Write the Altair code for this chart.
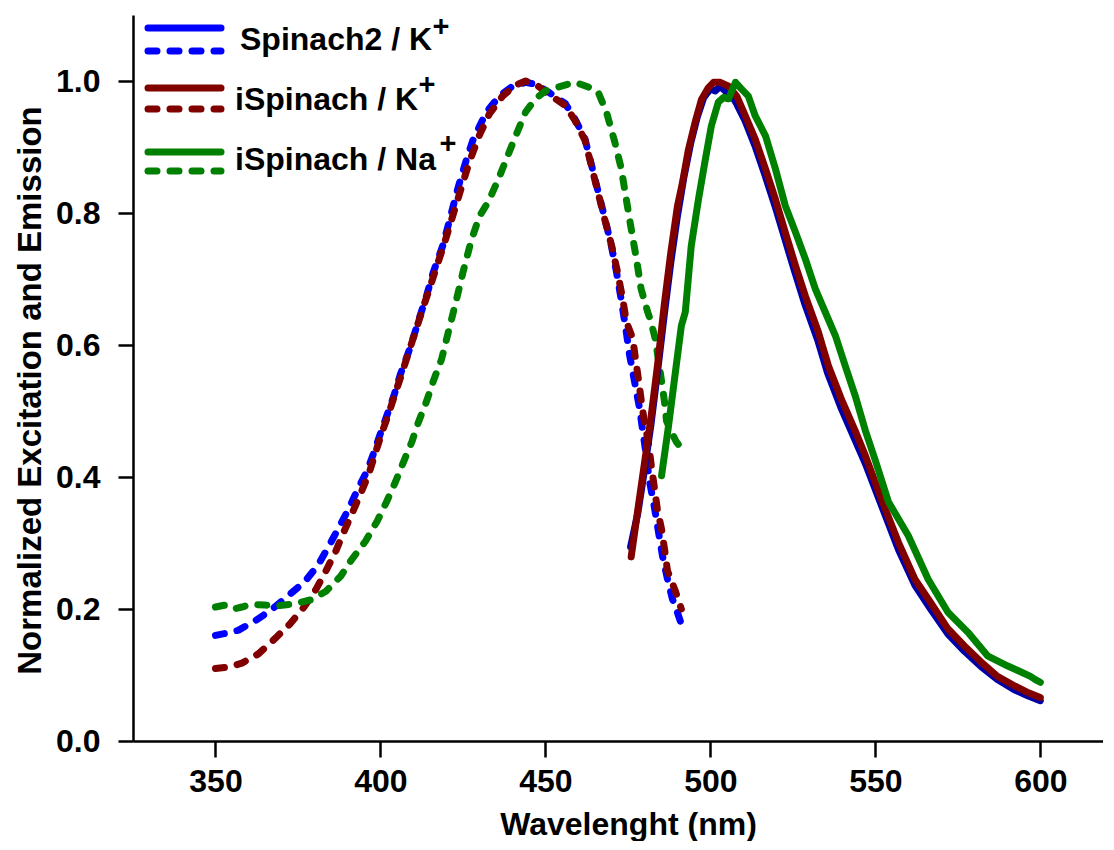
import altair as alt
import pandas as pd

series = ["Spinach2 / K", "iSpinach / K", "iSpinach / Na"]
dash_colors = ["#0000ff", "#800000", "#008000"]
solid_colors = ["#0000a8", "#800000", "#008000"]

# Excitation (dashed)
sp2_ex_wl = [350, 353, 357, 362, 367, 372, 377, 381, 384, 387, 390, 393, 396, 398, 400, 402, 404, 406,
             408.5, 410.5, 412.5, 414, 416, 419, 421.5, 423.5, 426, 428, 432, 436, 440, 444, 447, 451,
             456, 459, 462, 464, 466, 468, 470, 471.5, 473, 474.5, 475.5, 477, 478.5, 479.5, 480.5,
             481.5, 483, 484.5, 485.5, 487, 488.5, 490, 491]
sp2_ex_val = [0.160, 0.163, 0.168, 0.182, 0.199, 0.220, 0.241, 0.266, 0.292, 0.320, 0.348, 0.380, 0.410,
              0.437, 0.466, 0.494, 0.522, 0.555, 0.589, 0.620, 0.652, 0.675, 0.710, 0.752, 0.800, 0.838,
              0.880, 0.910, 0.952, 0.977, 0.992, 0.998, 0.995, 0.983, 0.966, 0.942, 0.912, 0.872, 0.832,
              0.792, 0.750, 0.712, 0.668, 0.620, 0.585, 0.545, 0.505, 0.470, 0.435, 0.395, 0.355, 0.310,
              0.280, 0.245, 0.215, 0.195, 0.180]

isk_ex_wl = [350, 354, 358, 363, 368, 372.5, 377, 380.5, 383.5, 386.5, 389, 391.5, 394, 396.5, 398.5,
             400.5, 402.5, 404.5, 406.5, 408.5, 410.5, 412.5, 414.5, 417, 419.5, 422, 424.5, 427, 430,
             433, 437, 441, 444, 447, 451, 456, 459, 462, 464, 466, 468, 470, 471.8, 473.5, 474.5,
             476.5, 477.3, 478.2, 479.1, 480, 481.2, 482.1, 483, 483.9, 485.2, 486.1, 487, 489.4, 491.2]
isk_ex_val = [0.110, 0.112, 0.118, 0.132, 0.155, 0.177, 0.204, 0.230, 0.258, 0.288, 0.318, 0.346, 0.375,
              0.405, 0.437, 0.468, 0.496, 0.527, 0.557, 0.588, 0.619, 0.650, 0.680, 0.718, 0.756, 0.797,
              0.838, 0.878, 0.918, 0.950, 0.977, 0.994, 1.000, 0.995, 0.980, 0.963, 0.940, 0.910, 0.870,
              0.830, 0.790, 0.752, 0.712, 0.668, 0.636, 0.609, 0.579, 0.548, 0.514, 0.483, 0.453, 0.417,
              0.385, 0.352, 0.321, 0.291, 0.258, 0.227, 0.200]

isna_ex_wl = [350, 353, 355.5, 358, 361, 365, 369, 374, 379, 383.5, 388, 391, 395.5, 399, 402, 404.5,
              407, 409.5, 411.5, 414, 416, 418.5, 420.5, 423, 425, 427.5, 430, 432.7, 435.8, 438.2, 441,
              444, 447, 450, 454, 459, 463, 466, 468.5, 471, 473, 474.5, 476, 477.6, 479, 481, 482,
              483.3, 484.2, 485.2, 486.1, 486.7, 488, 489.7, 491]
isna_ex_val = [0.203, 0.206, 0.200, 0.203, 0.207, 0.206, 0.205, 0.208, 0.214, 0.227, 0.250, 0.273, 0.303,
               0.333, 0.364, 0.392, 0.423, 0.453, 0.483, 0.515, 0.545, 0.578, 0.618, 0.668, 0.710, 0.758,
               0.795, 0.817, 0.852, 0.882, 0.917, 0.953, 0.973, 0.985, 0.991, 0.998, 0.991, 0.983, 0.953,
               0.908, 0.867, 0.821, 0.776, 0.730, 0.685, 0.650, 0.635, 0.609, 0.579, 0.545, 0.514, 0.485,
               0.470, 0.453, 0.445]

# Emission (solid)
sp2_em_wl = [475.8, 478, 480, 482, 484, 486, 488, 490, 492, 494, 496, 498, 500, 501.5, 503, 504.5, 506,
             508, 510.5, 513.5, 516.5, 519.5, 522.5, 525.5, 528.5, 532.5, 535.5, 539.5, 543.5, 547, 552,
             557, 562, 567, 572, 577, 582, 587, 592, 596, 600]
sp2_em_val = [0.294, 0.345, 0.410, 0.480, 0.560, 0.645, 0.725, 0.795, 0.855, 0.905, 0.945, 0.975, 0.988,
              0.985, 0.992, 0.985, 0.982, 0.965, 0.940, 0.902, 0.858, 0.812, 0.762, 0.712, 0.664, 0.608,
              0.558, 0.506, 0.460, 0.420, 0.355, 0.290, 0.236, 0.198, 0.162, 0.136, 0.113, 0.093, 0.078,
              0.069, 0.061]

isk_em_wl = [476, 478, 480, 482, 484, 486, 488, 490, 491.5, 493.3, 495.5, 497.3, 499.4, 501, 503, 505.5,
             508, 510.6, 513.6, 516.7, 519.7, 522.7, 525.8, 528.8, 532.7, 535.8, 539.7, 543.9, 547,
             551.8, 557, 562, 567, 572, 577, 582, 587, 592.4, 596, 600]
isk_em_val = [0.279, 0.350, 0.420, 0.490, 0.570, 0.660, 0.740, 0.810, 0.845, 0.895, 0.940, 0.972, 0.990,
              0.998, 0.998, 0.992, 0.977, 0.947, 0.912, 0.867, 0.821, 0.771, 0.720, 0.674, 0.620, 0.568,
              0.518, 0.470, 0.432, 0.367, 0.301, 0.245, 0.208, 0.170, 0.144, 0.120, 0.098, 0.083, 0.074,
              0.066]

isna_em_wl = [485.2, 487.3, 489.4, 491.2, 492.4, 494.2, 496.4, 498.5, 500.3, 502.4, 504, 505.5, 506.5,
              507.6, 509.4, 511.5, 513.6, 516.7, 519.7, 522.7, 525.8, 528.8, 531.8, 534.8, 537.9, 540.9,
              543.9, 547, 550, 554, 560, 566, 572, 578, 584, 590, 594, 597, 598.5, 600]
isna_em_val = [0.402, 0.477, 0.559, 0.629, 0.650, 0.750, 0.821, 0.882, 0.932, 0.968, 0.975, 0.973, 0.985,
               0.998, 0.988, 0.977, 0.947, 0.917, 0.867, 0.811, 0.771, 0.730, 0.685, 0.650, 0.614, 0.568,
               0.523, 0.470, 0.425, 0.362, 0.311, 0.245, 0.195, 0.165, 0.129, 0.114, 0.105, 0.098, 0.093,
               0.089]

x_ticks = [350, 400, 450, 500, 550, 600]
y_ticks = [0.0, 0.2, 0.4, 0.6, 0.8, 1.0]

FONT = "Liberation Sans"


def frame(wls, vals, name):
    return pd.DataFrame({"wl": wls, "v": vals, "series": name})


ex_df = pd.concat([
    frame(sp2_ex_wl, sp2_ex_val, series[0]),
    frame(isk_ex_wl, isk_ex_val, series[1]),
    frame(isna_ex_wl, isna_ex_val, series[2]),
])
em_df = pd.concat([
    frame(sp2_em_wl, sp2_em_val, series[0]),
    frame(isk_em_wl, isk_em_val, series[1]),
    frame(isna_em_wl, isna_em_val, series[2]),
])

x_enc = alt.X("wl:Q", scale=alt.Scale(domain=[325, 619], nice=False, zero=False),
              axis=alt.Axis(values=x_ticks, title="Wavelenght (nm)", format="d",
                            tickSize=16, labelPadding=9, titleX=495, titleY=93,
                            titleBaseline="alphabetic", titleAlign="center",
                            titleFontSize=32))
y_enc = alt.Y("v:Q", scale=alt.Scale(domain=[0, 1.1], nice=False),
              axis=alt.Axis(values=y_ticks, format=".1f",
                            title="Normalized Excitation and Emission",
                            tickSize=15, labelPadding=18, titleX=-93, titleY=375,
                            titleAngle=270, titleBaseline="alphabetic", titleAlign="center",
                            titleFontSize=33))

dashed = alt.Chart(ex_df).mark_line(
    strokeWidth=7, strokeDash=[9, 13], strokeCap="round", strokeJoin="round"
).encode(
    x=x_enc, y=y_enc,
    color=alt.Color("series:N", scale=alt.Scale(domain=series, range=dash_colors), legend=None),
    order=alt.Order("wl:Q"),
)

solid = alt.Chart(em_df).mark_line(
    strokeWidth=7, strokeCap="round", strokeJoin="round"
).encode(
    x="wl:Q", y="v:Q",
    color=alt.Color("series:N", scale=alt.Scale(domain=series, range=solid_colors), legend=None),
    order=alt.Order("wl:Q"),
)

# Hand-drawn legend (decoration, placed in pixels of the plot area)
legend_layers = []
solid_y = [13, 73, 137]
dash_y = [36, 94, 156]
text_x = [107, 102, 102]
text_y = [35, 95, 155]
plus_x = [308, 294, 315]
plus_y = [12, 70, 129]
for i, name in enumerate(series):
    ld = pd.DataFrame({"label": [name]})
    legend_layers.append(
        alt.Chart(ld).mark_rule(strokeWidth=7, strokeCap="round", color=dash_colors[i]).encode(
            x=alt.value(15), x2=alt.value(88), y=alt.value(solid_y[i]))
    )
    legend_layers.append(
        alt.Chart(ld).mark_rule(strokeWidth=7, strokeCap="round", strokeDash=[9, 13],
                                color=dash_colors[i]).encode(
            x=alt.value(15), x2=alt.value(88), y=alt.value(dash_y[i]))
    )
    legend_layers.append(
        alt.Chart(ld).mark_text(align="left", baseline="alphabetic", font=FONT, fontWeight="bold",
                                fontSize=32, color="black").encode(
            x=alt.value(text_x[i]), y=alt.value(text_y[i]), text="label:N")
    )
    legend_layers.append(
        alt.Chart(ld).mark_text(align="center", baseline="middle", font=FONT, fontWeight="bold",
                                fontSize=29, color="black").encode(
            x=alt.value(plus_x[i]), y=alt.value(plus_y[i]), text=alt.value("+"))
    )

chart = alt.layer(dashed, solid, *legend_layers).resolve_scale(
    color="independent"
).properties(
    width=970, height=726,
    background="white",
    autosize=alt.AutoSizeParams(type="none"),
    padding={"left": 125, "top": 7, "right": 0, "bottom": 100},
).configure_view(
    stroke=None
).configure_axis(
    grid=False,
    domainColor="black", domainWidth=2.5,
    tickColor="black", tickWidth=2.5,
    labelFont=FONT, labelFontWeight="bold", labelFontSize=32, labelColor="black",
    titleFont=FONT, titleFontWeight="bold", titleColor="black",
)

chart.save("out.html", embed_options={"renderer": "svg", "actions": False})
